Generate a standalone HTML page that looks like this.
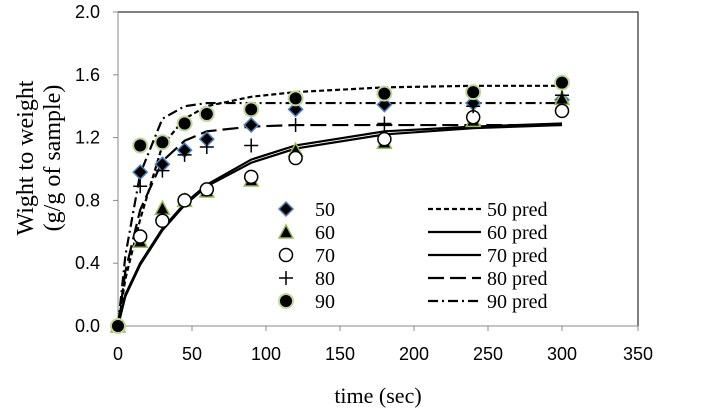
<!DOCTYPE html>
<html><head><meta charset="utf-8"><style>
html,body{margin:0;padding:0;background:#fff;}
svg{display:block;}
</style></head><body>
<svg id="chart" width="702" height="419" xmlns="http://www.w3.org/2000/svg">
<g id="axes"></g>
<g id="preds"></g>
<g id="marks"></g>
<g id="legend"></g>
<text x="378" y="403" font-family="Liberation Serif, serif" font-size="22" text-anchor="middle">time (sec)</text>
<text transform="translate(33,158) rotate(-90)" font-family="Liberation Serif, serif" font-size="24" text-anchor="middle">Wight to weight</text>
<text transform="translate(60,158) rotate(-90)" font-family="Liberation Serif, serif" font-size="24" text-anchor="middle">(g/g of sample)</text>
</svg>
<script>
const times=[0,15,30,45,60,90,120,180,240,300];
const s50=[0,0.98,1.03,1.12,1.19,1.28,1.38,1.41,1.42,1.44];
const s60=[0,0.54,0.75,0.80,0.86,0.93,1.12,1.17,1.31,1.45];
const s70=[0,0.57,0.67,0.80,0.87,0.95,1.07,1.19,1.33,1.37];
const s80=[0,0.89,0.99,1.09,1.14,1.15,1.28,1.29,1.40,1.47];
const s90=[0,1.15,1.17,1.29,1.35,1.38,1.45,1.48,1.49,1.55];
const predTimes=[0,5,15,30,45,60,90,120,180,240,300];
const p50=[0,0.3,0.68,1.15,1.32,1.40,1.46,1.49,1.52,1.53,1.53];
const p60=[0,0.2,0.40,0.62,0.78,0.90,1.06,1.15,1.24,1.27,1.29];
const p70=[0,0.19,0.39,0.61,0.77,0.89,1.04,1.13,1.22,1.26,1.28];
const p80=[0,0.35,0.74,1.05,1.18,1.24,1.27,1.28,1.28,1.28,1.28];
const p90=[0,0.45,0.97,1.32,1.40,1.42,1.42,1.42,1.42,1.42,1.42];
const xTicks=[0,50,100,150,200,250,300,350];
const yTicks=["0.0","0.4","0.8","1.2","1.6","2.0"];
const X0=118,X1=636,Y0=326,Y1=12;
const xs=v=>X0+(v/350)*(X1-X0);
const ys=v=>Y0-(v/2)*(Y0-Y1);
const NS="http://www.w3.org/2000/svg";
function mk(tag,parent,attrs){const e=document.createElementNS(NS,tag);for(const k in attrs)e.setAttribute(k,attrs[k]);parent.appendChild(e);return e;}
const axes=document.getElementById('axes');
let e=mk('rect',axes,{x:X0,y:Y1,width:X1+2-X0,height:Y0-Y1,fill:'none',stroke:'#000','stroke-width':1});


e=mk('line',axes,{x1:X0,y1:Y0,x2:X1+2,y2:Y0,stroke:'#888','stroke-width':1});


e=mk('line',axes,{x1:X0,y1:Y1,x2:X0,y2:Y0,stroke:'#888','stroke-width':1});


xTicks.forEach(t=>{
  const x=t===350?X1+2:xs(t);
  let l=mk('line',axes,{x1:x,y1:Y0,x2:x,y2:Y0+5,stroke:'#888'});
  
  
  let tx=mk('text',axes,{x:x,y:Y0+34,'font-family':'Liberation Sans, sans-serif','font-size':18,'text-anchor':'middle'});
  tx.textContent=t;
  
  
});
yTicks.forEach(t=>{
  const y=ys(parseFloat(t));
  let l=mk('line',axes,{x1:X0-5,y1:y,x2:X0,y2:y,stroke:'#888'});
  
  
  let tx=mk('text',axes,{x:X0-18,y:y+6,'font-family':'Liberation Sans, sans-serif','font-size':18,'text-anchor':'end'});
  tx.textContent=t;
  
  
});
const predG=document.getElementById('preds');
const predDefs=[[p50,'5,3','50-pred-line'],[p60,'','60-pred-line'],[p70,'','70-pred-line'],[p80,'16,6','80-pred-line'],[p90,'10,4,2,4','90-pred-line']];
predDefs.forEach(d=>{
  const pts=predTimes.map((t,i)=>xs(t)+','+ys(d[0][i])).join(' ');
  let p=mk('polyline',predG,{points:pts,fill:'none',stroke:'#000','stroke-width':2.2,'stroke-dasharray':d[1]});
  
  
});
function marker(g,type,x,y){
  let m;
  if(type==='d'){m=mk('polygon',g,{points:`${x},${y-7} ${x+7},${y} ${x},${y+7} ${x-7},${y}`,fill:'#000',stroke:'#4f81bd','stroke-width':1.5});}
  else if(type==='t'){m=mk('polygon',g,{points:`${x},${y-7} ${x+7},${y+6} ${x-7},${y+6}`,fill:'#000',stroke:'#9bbb59','stroke-width':1.5});}
  else if(type==='o'){m=mk('circle',g,{cx:x,cy:y,r:6.5,fill:'#fff',stroke:'#000','stroke-width':1.5});}
  else if(type==='p'){m=mk('path',g,{d:`M${x-7},${y}H${x+7}M${x},${y-7}V${y+7}`,stroke:'#000','stroke-width':1.5,fill:'none'});}
  else {m=mk('circle',g,{cx:x,cy:y,r:7,fill:'#000',stroke:'#c3d69b','stroke-width':2});}
  return m;
}
const marks=document.getElementById('marks');
const ser=[[s50,'d','50'],[s60,'t','60'],[s70,'o','70'],[s80,'p','80'],[s90,'c','90']];
ser.forEach(s=>{
  times.forEach((t,i)=>{
    const m=marker(marks,s[1],xs(t),ys(s[0][i]));
    
    
  });
});
const leg=document.getElementById('legend');
ser.forEach((s,i)=>{
  const y=209+i*23;
  const m=marker(leg,s[1],286,y);
  
  
  const t=mk('text',leg,{x:315,y:y+7,'font-family':'Liberation Serif, serif','font-size':20});
  t.textContent=s[2];
  
  
});
predDefs.forEach((d,i)=>{
  const y=209+i*23;
  const l=mk('line',leg,{x1:428,y1:y,x2:481,y2:y,stroke:'#000','stroke-width':2.2,'stroke-dasharray':d[1]});
  
  
  const t=mk('text',leg,{x:487,y:y+7,'font-family':'Liberation Serif, serif','font-size':20});
  t.textContent=ser[i][2]+' pred';
  
  
});
</script>
</body></html>
